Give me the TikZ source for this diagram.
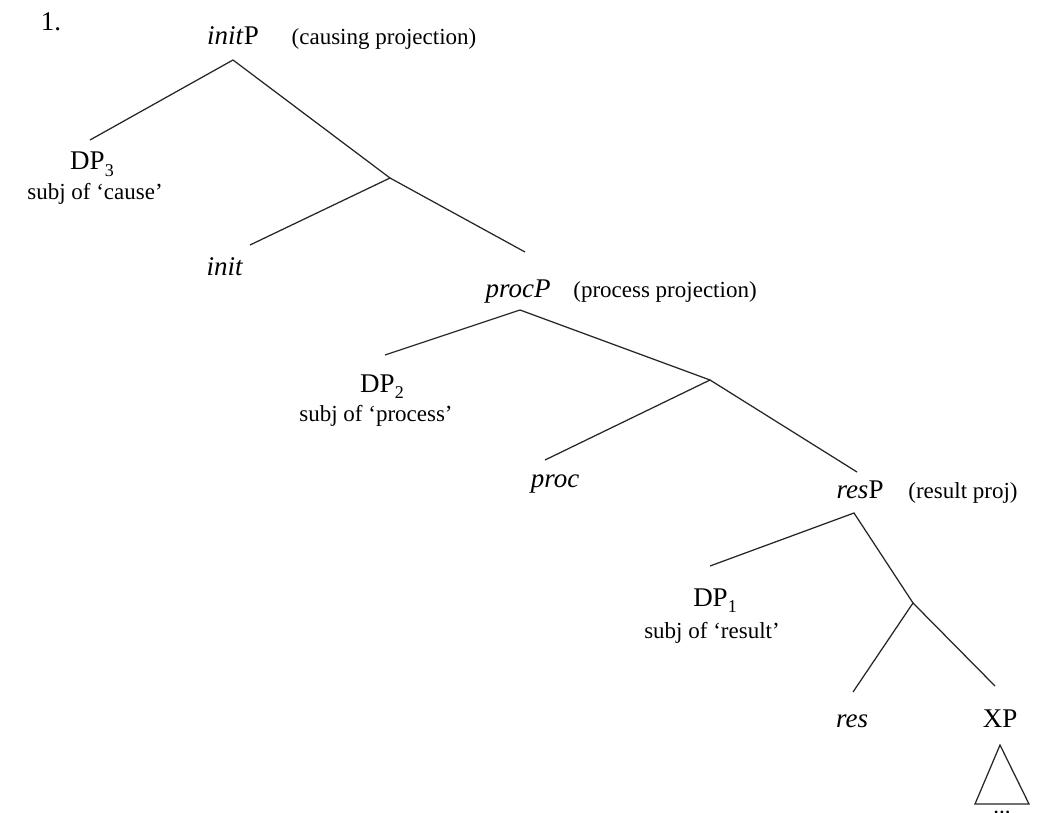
\documentclass[tikz,border=0pt]{standalone}
\usepackage{fontspec}
\setmainfont{Liberation Serif}
\newcommand{\mysub}[1]{\raisebox{-0.5ex}{\fontsize{18}{18}\selectfont #1}}
\begin{document}
\begin{tikzpicture}[x=1pt,y=-1pt,
  lbl/.style={font=\fontsize{27}{30}\selectfont, inner sep=0pt, anchor=base},
  ann/.style={font=\fontsize{23}{26}\selectfont, inner sep=0pt, anchor=base},
  br/.style={line width=1.25pt, draw=black!85}]
\useasboundingbox[fill=white] (0,0) rectangle (1038,813);
% labels
\node[lbl] (num) at (51,31) {1.};
\node[lbl] (initP) at (233,45) {\textit{init}P};
\node[ann] (initPa) at (384,45) {(causing projection)};
\node[lbl] (DP3) at (92,170) {DP\mysub{3}};
\node[ann] (DP3a) at (95,200) {subj of ‘cause’};
\node[lbl] (init) at (225,275) {\textit{init}};
\node[lbl] (procP) at (518,297) {\textit{procP}};
\node[ann] (procPa) at (665,297) {(process projection)};
\node[lbl] (DP2) at (382,392) {DP\mysub{2}};
\node[ann] (DP2a) at (376,421) {subj of ‘process’};
\node[lbl] (proc) at (555,487) {\textit{proc}};
\node[lbl] (resP) at (860,498) {\textit{res}P};
\node[ann] (resPa) at (963,498) {(result proj)};
\node[lbl] (DP1) at (715,606) {DP\mysub{1}};
\node[ann] (DP1a) at (712,638) {subj of ‘result’};
\node[lbl] (res) at (852,727) {\textit{res}};
\node[lbl] (XP) at (1000,727) {XP};
\node[ann] (dots) at (1002,813) {...};
% branch points
\coordinate (a0) at (233,60);
\coordinate (d3) at (90,140);
\coordinate (a1) at (390,178);
\coordinate (i1) at (250,245);
\coordinate (p1) at (525,252);
\coordinate (a2) at (520,310);
\coordinate (d2) at (385,355);
\coordinate (b1) at (710,380);
\coordinate (pr) at (545,460);
\coordinate (r1) at (857,472);
\coordinate (a3) at (854,513);
\coordinate (d1) at (710,566);
\coordinate (c1) at (913,603);
\coordinate (rs) at (853,692);
\coordinate (xp) at (995,686);
\coordinate (t0) at (1000,745);
\coordinate (tl) at (975,804);
\coordinate (tr) at (1029,804);
% branches
\draw[br] (d3) -- (a0) -- (a1);
\draw[br] (i1) -- (a1) -- (p1);
\draw[br] (d2) -- (a2) -- (b1);
\draw[br] (pr) -- (b1) -- (r1);
\draw[br] (d1) -- (a3) -- (c1);
\draw[br] (rs) -- (c1) -- (xp);
\draw[br, line join=miter] (t0) -- (tl) -- (tr) -- cycle;
\end{tikzpicture}
\end{document}
